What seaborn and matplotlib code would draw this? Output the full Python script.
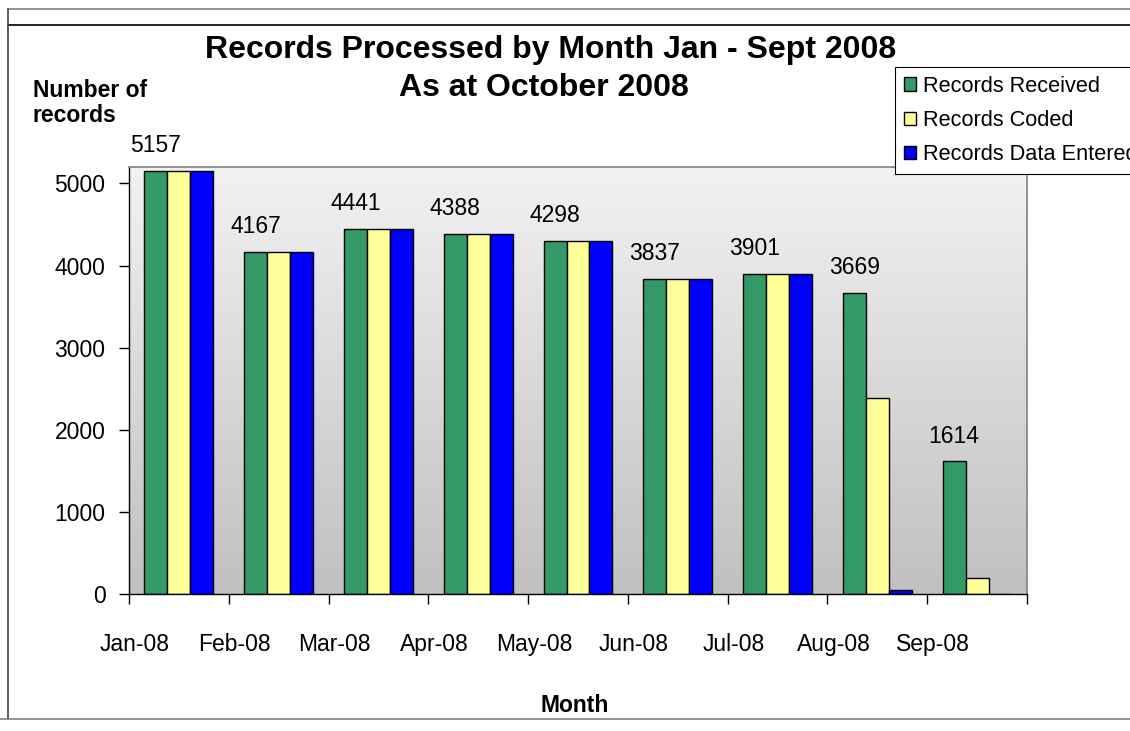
import numpy as np
import pandas as pd
import matplotlib
matplotlib.use("Agg")
import matplotlib.pyplot as plt
from matplotlib.lines import Line2D
from matplotlib.patches import Patch
from matplotlib.colors import LinearSegmentedColormap
import seaborn as sns

# data
months = ["Jan-08", "Feb-08", "Mar-08", "Apr-08", "May-08",
          "Jun-08", "Jul-08", "Aug-08", "Sep-08"]
received = [5157, 4167, 4441, 4388, 4298, 3837, 3901, 3669, 1614]
coded = [5157, 4167, 4441, 4388, 4298, 3837, 3901, 2390, 190]
entered = [5157, 4167, 4441, 4388, 4298, 3837, 3901, 50, 0]
series = ["Records Received", "Records Coded", "Records Data Entered"]
colors = ["#339966", "#FFFF99", "#0000FF"]

sns.set_theme(style="white")
plt.rcParams['font.family'] = ['Liberation Sans', 'DejaVu Sans']
plt.rcParams.update({"text.color": "black", "xtick.color": "black",
                     "ytick.color": "black", "axes.labelcolor": "black"})

df = pd.DataFrame({
    "Month": months * 3,
    "Records": received + coded + entered,
    "Series": np.repeat(series, len(months)),
})

W, H = 1130, 731
fig = plt.figure(figsize=(W / 100, H / 100), dpi=100)
ax = fig.add_axes([129 / W, (H - 594) / H, 898 / W, 427 / H])
ax.set_facecolor("none")

# grey gradient plot area
grad = np.linspace(0, 1, 256).reshape(-1, 1)
bg = LinearSegmentedColormap.from_list("bg", ["#f2f2f2", "#c0c0c0"])
ax.imshow(grad, cmap=bg, extent=[0, 1, 0, 1], transform=ax.transAxes,
          aspect="auto", zorder=0)

sns.barplot(data=df, x="Month", y="Records", hue="Series", palette=colors,
            width=0.69, saturation=1, edgecolor="black", linewidth=1,
            ax=ax, zorder=2, legend=False)

ax.bar_label(ax.containers[0], padding=10, fontsize=16.5, color="black")

ax.set_xlim(-0.5, 8.5)
ax.set_ylim(0, 5200)
ax.set_xlabel("")
ax.set_ylabel("")

ax.set_yticks(range(0, 5001, 1000))
ax.tick_params(axis="y", left=True, length=7, width=1, color="black",
               direction="out", pad=10, labelsize=16.5, labelcolor="black")
ax.set_xticks(np.arange(len(months)) - 0.44, labels=months)
ax.set_xticks(np.arange(len(months) + 1) - 0.5, minor=True)
ax.tick_params(axis="x", which="major", bottom=True, length=0, pad=28,
               labelsize=16.5, labelcolor="black")
ax.tick_params(axis="x", which="minor", bottom=True, length=7, width=1,
               color="black", direction="out")

for s in ["left", "bottom"]:
    ax.spines[s].set_color("black")
    ax.spines[s].set_linewidth(1)
for s in ["top", "right"]:
    ax.spines[s].set_color("#808080")
    ax.spines[s].set_linewidth(1.2)

# titles and axis labels
fig.text(551 / W, 1 - 58 / H, "Records Processed by Month Jan - Sept 2008",
         ha="center", va="baseline", fontsize=23, fontweight="bold")
fig.text(544 / W, 1 - 96 / H, "As at October 2008",
         ha="center", va="baseline", fontsize=23, fontweight="bold")
fig.text(33 / W, 1 - 79 / H, "Number of\nrecords", ha="left", va="top",
         fontsize=16.5, fontweight="bold", linespacing=1.1)
fig.text(575 / W, 1 - 706 / H, "Month", ha="center", va="center",
         fontsize=16.5, fontweight="bold")

# legend
handles = [Patch(facecolor=c, edgecolor="black", linewidth=1) for c in colors]
leg = fig.legend(handles, series, loc="upper left",
                 bbox_to_anchor=(895 / W, 1 - 67 / H), frameon=True,
                 fancybox=False, edgecolor="black", framealpha=1,
                 fontsize=15.7, handlelength=0.55, handleheight=0.55,
                 handletextpad=0.35, labelspacing=0.6, borderpad=0.4,
                 borderaxespad=0)
leg.get_frame().set_linewidth(0.8)


def px(x, y):
    return x / W, 1 - y / H


# chart frame pieces visible in the screenshot
for (x0, y0), (x1, y1), col in [((8, 9), (W, 9), "#808080"),
                                ((8, 25), (W, 25), "black"),
                                ((8, 9), (8, 719), "#404040"),
                                ((0, 719), (W, 719), "#808080")]:
    a, b = px(x0, y0)
    c, d = px(x1, y1)
    fig.add_artist(Line2D([a, c], [b, d], transform=fig.transFigure,
                          color=col, linewidth=1.2))

fig.savefig("out.png", dpi=100)
